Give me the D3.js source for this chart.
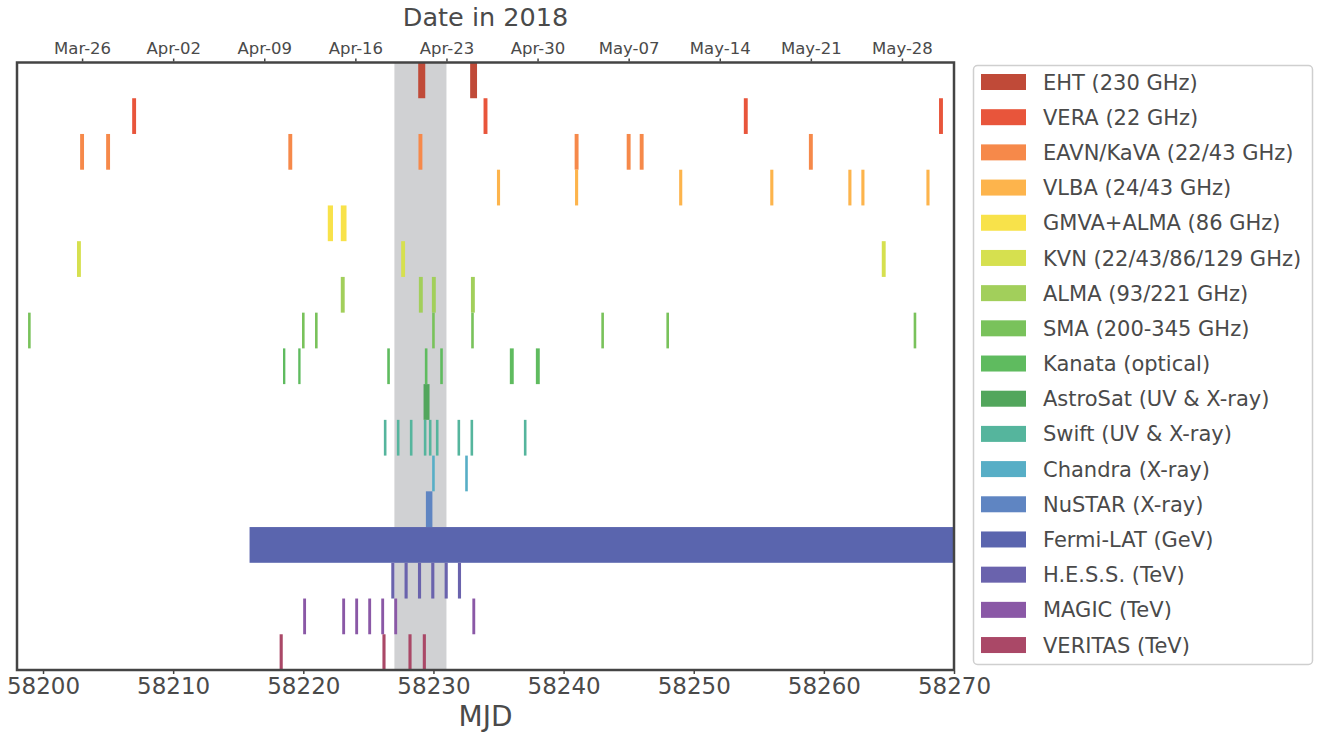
<!DOCTYPE html>
<html><head><meta charset="utf-8">
<script src="https://cdn.jsdelivr.net/npm/d3@7"></script>
<style>body{margin:0;background:#fff;} text{font-family:"DejaVu Sans",sans-serif;fill:#4a4a4a;}</style>
</head><body><svg id="c" width="1319" height="733"></svg>
<script>
// ---- data (MJD) ----
const instruments = ["EHT (230 GHz)","VERA (22 GHz)","EAVN/KaVA (22/43 GHz)","VLBA (24/43 GHz)","GMVA+ALMA (86 GHz)","KVN (22/43/86/129 GHz)","ALMA (93/221 GHz)","SMA (200-345 GHz)","Kanata (optical)","AstroSat (UV & X-ray)","Swift (UV & X-ray)","Chandra (X-ray)","NuSTAR (X-ray)","Fermi-LAT (GeV)","H.E.S.S. (TeV)","MAGIC (TeV)","VERITAS (TeV)"];
const colors = ["#c04a38","#e8553b","#f6894a","#fdb44c","#f8e24a","#d6e04f","#a2cf5b","#79c25b","#5fbb5f","#52a65c","#55b59d","#57aec6","#5f85c2","#5a65ae","#6a63ad","#8a58a6","#aa4867"];
const eht = [[58228.83,58229.37],[58232.82,58233.35]];
const vera = [[58206.85,58207.15],[58233.85,58234.15],[58253.85,58254.15],[58268.85,58269.15]];
const eavn = [[58202.85,58203.15],[58204.85,58205.15],[58218.85,58219.15],[58228.85,58229.15],[58240.85,58241.15],[58244.85,58245.15],[58245.85,58246.15],[58258.85,58259.15]];
const vlba = [[58234.88,58235.12],[58240.88,58241.12],[58248.88,58249.12],[58255.88,58256.12],[58261.88,58262.12],[58262.88,58263.12],[58267.88,58268.12]];
const gmva = [[58221.88,58222.28],[58222.88,58223.32]];
const kvn = [[58202.61,58202.91],[58227.52,58227.82],[58264.45,58264.75]];
const alma = [[58222.88,58223.18],[58228.88,58229.18],[58229.88,58230.18],[58232.88,58233.18]];
const sma = [[58198.85,58199.05],[58219.9,58220.1],[58220.9,58221.1],[58229.9,58230.1],[58232.9,58233.1],[58242.9,58243.1],[58247.9,58248.1],[58266.9,58267.1]];
const kanata = [[58218.44,58218.62],[58219.61,58219.79],[58226.45,58226.65],[58229.34,58229.54],[58230.52,58230.72],[58235.87,58236.17],[58237.87,58238.17]];
const astrosat = [[58229.24,58229.7]];
const swift = [[58226.19,58226.39],[58227.19,58227.39],[58228.19,58228.39],[58229.26,58229.46],[58229.65,58229.85],[58230.19,58230.39],[58231.85,58232.05],[58232.85,58233.05],[58236.95,58237.15]];
const chandra = [[58229.9,58230.1],[58232.44,58232.64]];
const nustar = [[58229.42,58229.92]];
const fermi = [[58215.87,58275]];
const hess = [[58226.76,58227.0],[58227.78,58228.02],[58228.81,58229.05],[58229.83,58230.07],[58230.86,58231.1],[58231.88,58232.12]];
const magic = [[58219.99,58220.21],[58222.99,58223.21],[58223.99,58224.21],[58224.99,58225.21],[58225.99,58226.21],[58226.99,58227.21],[58232.99,58233.21]];
const veritas = [[58218.18,58218.42],[58226.08,58226.32],[58228.08,58228.32],[58229.18,58229.42]];
const observations = [eht,vera,eavn,vlba,gmva,kvn,alma,sma,kanata,astrosat,swift,chandra,nustar,fermi,hess,magic,veritas];
const highlight = [58227, 58231];
const mjdTicks = [58200,58210,58220,58230,58240,58250,58260,58270];
const dateTickMJD = [58203,58210,58217,58224,58231,58238,58245,58252,58259,58266];
const dateTickLabels = ["Mar-26","Apr-02","Apr-09","Apr-16","Apr-23","Apr-30","May-07","May-14","May-21","May-28"];

// ---- layout ----
const svg = d3.select("#c");
const L = 17, R = 954, T = 62.5, B = 670;
const x = d3.scaleLinear().domain([58198, 58270]).range([L, R]);
const y = d3.scaleBand().domain(d3.range(instruments.length)).range([T, B]).paddingInner(0).paddingOuter(0);

svg.append("defs").append("clipPath").attr("id","clip")
  .append("rect").attr("x",L).attr("y",T).attr("width",R-L).attr("height",B-T);
const plot = svg.append("g").attr("clip-path","url(#clip)");

plot.append("rect").attr("x",x(highlight[0])).attr("width",x(highlight[1])-x(highlight[0]))
  .attr("y",T).attr("height",B-T).attr("fill","#d0d1d3");

observations.forEach((obs,i)=>{
  plot.selectAll(null).data(obs).enter().append("rect")
    .attr("x",d=>x(d[0])).attr("width",d=>Math.max(x(d[1])-x(d[0]),1.5))
    .attr("y",y(i)).attr("height",y.bandwidth())
    .attr("fill",colors[i]);
});

// frame
svg.append("rect").attr("x",L).attr("y",T).attr("width",R-L).attr("height",B-T)
  .attr("fill","none").attr("stroke","#444").attr("stroke-width",2.5);

// bottom axis
const xb = svg.append("g").attr("transform",`translate(0,${B})`)
  .call(d3.axisBottom(x).tickValues(mjdTicks).tickFormat(d3.format("d")).tickSize(4).tickSizeOuter(0));
xb.select(".domain").remove();
xb.selectAll("line").attr("stroke","#444").attr("stroke-width",1.5).attr("y1",1);
xb.selectAll("text").attr("font-size",23).attr("dy","0.95em").attr("y",2).style("fill","#4a4a4a");

// top axis
const xt = svg.append("g").attr("transform",`translate(0,${T})`)
  .call(d3.axisTop(x).tickValues(dateTickMJD).tickFormat((d,i)=>dateTickLabels[i]).tickSize(4).tickSizeOuter(0));
xt.select(".domain").remove();
xt.selectAll("line").attr("stroke","#444").attr("stroke-width",1.5).attr("y1",-1);
xt.selectAll("text").attr("font-size",16.5).attr("y",-9).style("fill","#4a4a4a");

svg.append("text").attr("x",(L+R)/2).attr("y",26).attr("text-anchor","middle").attr("font-size",25.5).text("Date in 2018");
svg.append("text").attr("x",(L+R)/2).attr("y",726).attr("text-anchor","middle").attr("font-size",28).text("MJD");

// legend
const lg = svg.append("g");
lg.append("rect").attr("x",973.5).attr("y",65.5).attr("width",339).attr("height",599).attr("rx",4)
  .attr("fill","#fff").attr("stroke","#cfcfcf").attr("stroke-width",1.5);
instruments.forEach((name,i)=>{
  const cy = 82 + i*35.19;
  lg.append("rect").attr("x",981).attr("y",cy-8).attr("width",45).attr("height",16).attr("fill",colors[i]);
  lg.append("text").attr("x",1043).attr("y",cy).attr("dy","0.36em").attr("font-size",21).text(name);
});
</script></body></html>
